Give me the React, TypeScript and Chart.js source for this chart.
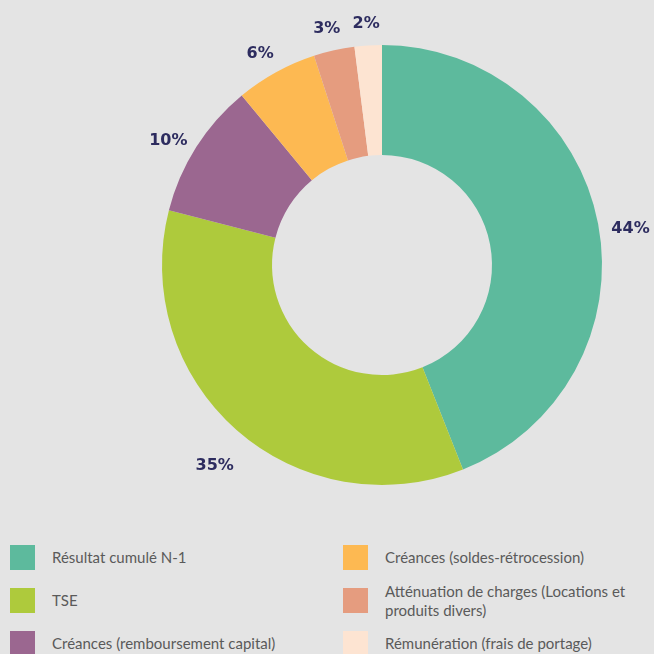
import React, { useEffect, useRef } from "react";
import { Chart, registerables } from "chart.js";

Chart.register(...registerables);

const categories = [
  "Résultat cumulé N-1",
  "TSE",
  "Créances (remboursement capital)",
  "Créances (soldes-rétrocession)",
  "Atténuation de charges (Locations et produits divers)",
  "Rémunération (frais de portage)",
];
const values = [44, 35, 10, 6, 3, 2];
const percentLabels = ["44%", "35%", "10%", "6%", "3%", "2%"];
const colors = ["#5dba9d", "#aeca3c", "#9b6790", "#fdb952", "#e59c7f", "#fde4d2"];
// legend layout order: left column then right column
const legendLeft = [0, 1, 2];
const legendRight = [3, 4, 5];

const BG = "#e4e4e4";
const LABEL_COLOR = "#2d2c5f";

const labelPlugin = {
  id: "outerLabels",
  afterDatasetsDraw(chart: any) {
    const ctx = chart.ctx;
    const meta = chart.getDatasetMeta(0);
    ctx.save();
    ctx.font = "bold 16px 'DejaVu Sans', Lato, sans-serif";
    ctx.fillStyle = LABEL_COLOR;
    ctx.textAlign = "center";
    ctx.textBaseline = "middle";
    meta.data.forEach((arc: any, i: number) => {
      const p = arc.getProps(["x", "y", "startAngle", "endAngle", "outerRadius"], true);
      const mid = (p.startAngle + p.endAngle) / 2;
      const r = p.outerRadius + 33;
      const x = p.x + Math.cos(mid) * r;
      const y = p.y + Math.sin(mid) * r + 11;
      ctx.fillText(percentLabels[i], x, y);
    });
    ctx.restore();
  },
};

function LegendItem({ i }: { i: number }) {
  return (
    <div style={{ display: "flex", alignItems: "center", height: 25 }}>
      <div style={{ width: 25, height: 25, background: colors[i], flex: "0 0 25px" }} />
      <div
        style={{
          marginLeft: 17,
          fontFamily: "Lato, 'Open Sans', sans-serif",
          fontSize: 15,
          lineHeight: "19px",
          color: "#5a5a5a",
        }}
      >
        {categories[i]}
      </div>
    </div>
  );
}

export default function App() {
  const ref = useRef<HTMLCanvasElement | null>(null);
  useEffect(() => {
    document.body.style.margin = "0";
    document.body.style.background = BG;
    const chart = new Chart(ref.current as HTMLCanvasElement, {
      type: "doughnut",
      data: {
        labels: categories,
        datasets: [
          {
            data: values,
            backgroundColor: colors,
            borderWidth: 0,
          },
        ],
      },
      options: {
        animation: false,
        responsive: false,
        cutout: "50%",
        layout: { padding: { left: 162, right: 52, top: 45, bottom: 35 } },
        plugins: {
          legend: { display: false },
          tooltip: { enabled: false },
        },
      },
      plugins: [labelPlugin],
    });
    return () => chart.destroy();
  }, []);

  return (
    <div style={{ position: "absolute", left: 0, top: 0, width: 654, height: 654, background: BG, overflow: "hidden" }}>
      <canvas ref={ref} width={654} height={520} style={{ position: "absolute", left: 0, top: 0 }} />
      <div style={{ position: "absolute", left: 10, top: 545, width: 320, display: "flex", flexDirection: "column", gap: 18 }}>
        {legendLeft.map((i) => (
          <LegendItem key={i} i={i} />
        ))}
      </div>
      <div style={{ position: "absolute", left: 343, top: 545, width: 300, display: "flex", flexDirection: "column", gap: 18 }}>
        {legendRight.map((i) => (
          <LegendItem key={i} i={i} />
        ))}
      </div>
    </div>
  );
}
